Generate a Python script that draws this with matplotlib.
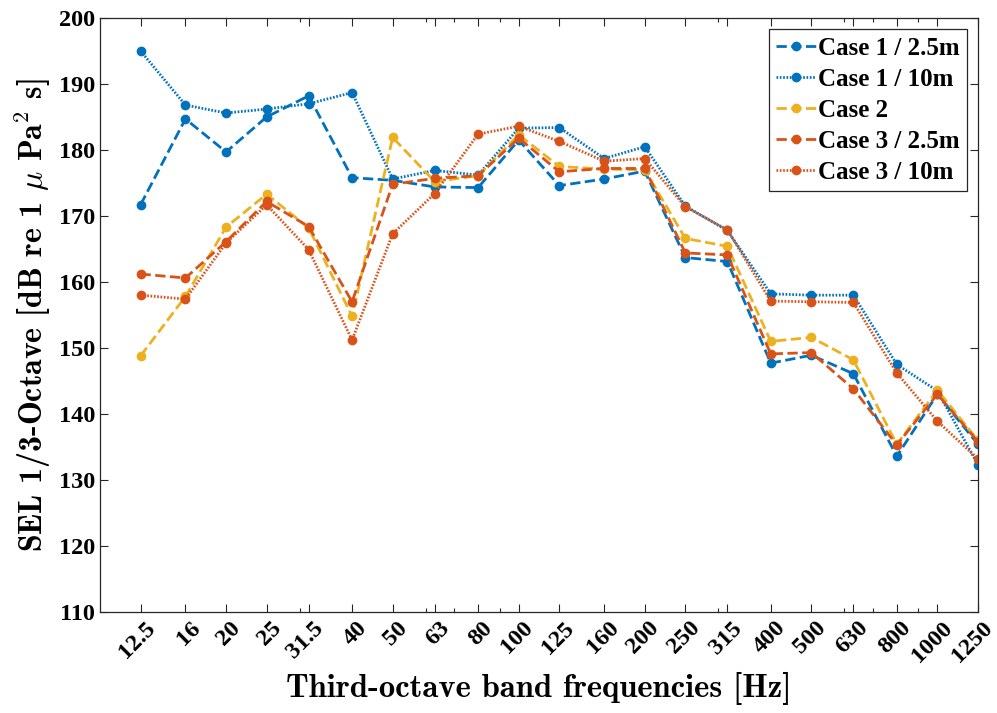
import matplotlib
matplotlib.use("Agg")
import matplotlib.pyplot as plt
from matplotlib.font_manager import FontProperties
from matplotlib.transforms import ScaledTranslation
from matplotlib.ticker import FixedLocator, FixedFormatter, LogLocator, NullFormatter

# Third-octave band centre frequencies [Hz]
freqs = [12.5, 16, 20, 25, 31.5, 40, 50, 63, 80, 100, 125, 160, 200,
         250, 315, 400, 500, 630, 800, 1000, 1250]
freq_labels = ["12.5", "16", "20", "25", "31.5", "40", "50", "63", "80", "100",
               "125", "160", "200", "250", "315", "400", "500", "630", "800",
               "1000", "1250"]

# SEL per band [dB re 1 uPa^2 s]
case1_2p5m = [171.7, 184.7, 179.7, 185.0, 188.2, 175.8, 175.4, 174.4, 174.3, 181.5,
              174.6, 175.6, 176.8, 163.7, 163.1, 147.7, 148.9, 146.1, 133.6, 143.0, 135.4]
case1_10m = [195.0, 186.8, 185.6, 186.2, 187.0, 188.7, 175.6, 176.9, 176.2, 183.3,
             183.4, 178.7, 180.5, 171.5, 167.8, 158.2, 158.0, 158.0, 147.5, 143.5, 132.3]
case2 = [148.8, 157.8, 168.3, 173.3, 168.2, 154.8, 181.9, 175.2, 176.1, 182.3,
         177.5, 177.1, 177.0, 166.6, 165.4, 151.0, 151.6, 148.2, 135.4, 143.6, 136.0]
case3_2p5m = [161.2, 160.6, 166.1, 172.2, 168.4, 157.0, 174.8, 175.7, 176.1, 181.8,
              176.7, 177.2, 177.2, 164.4, 164.1, 149.1, 149.3, 143.8, 135.3, 143.0, 135.8]
case3_10m = [158.0, 157.4, 165.9, 171.7, 164.9, 151.2, 167.3, 173.4, 182.4, 183.6,
             181.3, 178.3, 178.7, 171.4, 167.9, 157.1, 157.0, 156.9, 146.2, 138.9, 133.2]

series_names = ["Case 1 / 2.5m", "Case 1 / 10m", "Case 2", "Case 3 / 2.5m", "Case 3 / 10m"]

BLUE = "#0072BD"
ORANGE = "#D95319"
YELLOW = "#EDB120"
DASH = (0, (3.7, 1.6))
DOT = (0, (0.6, 0.6))

plt.rcParams["mathtext.fontset"] = "cm"

fig = plt.figure(figsize=(9.97, 7.13), dpi=100)
ax = fig.add_axes([0.1003, 0.1417, 0.8806, 0.8331])

styles = [
    (case1_2p5m, BLUE, DASH),
    (case1_10m, BLUE, DOT),
    (case2, YELLOW, DASH),
    (case3_2p5m, ORANGE, DASH),
    (case3_10m, ORANGE, DOT),
]
for (vals, col, ls), name in zip(styles, series_names):
    ax.plot(freqs, vals, color=col, linestyle=ls, linewidth=2.0,
            marker="o", markersize=7, markeredgewidth=0, label=name)

ax.set_xscale("log")
ax.set_xlim(10, 1250)
ax.set_ylim(110, 200)
ax.set_yticks(range(110, 201, 10))

ax.xaxis.set_major_locator(FixedLocator(freqs))
ax.xaxis.set_major_formatter(FixedFormatter(freq_labels))
ax.xaxis.set_minor_locator(LogLocator(base=10, subs=range(2, 10)))
ax.xaxis.set_minor_formatter(NullFormatter())

axis_col = "#262626"
for sp in ax.spines.values():
    sp.set_color(axis_col)
    sp.set_linewidth(0.9)

ax.tick_params(which="both", direction="in", top=True, right=True, color=axis_col, width=0.8)
ax.tick_params(which="major", length=6)
ax.tick_params(which="minor", length=3)
ax.tick_params(axis="y", pad=3.5)
ax.tick_params(axis="x", pad=4)

tick_font = FontProperties(family="Liberation Serif", weight="bold", size=17.5)
for lab in ax.get_yticklabels():
    lab.set_fontproperties(tick_font)
shift = ScaledTranslation(4 / 100, 0, fig.dpi_scale_trans)
for lab in ax.get_xticklabels():
    lab.set_fontproperties(tick_font)
    lab.set_rotation(45)
    lab.set_ha("right")
    lab.set_va("top")
    lab.set_rotation_mode("anchor")
    lab.set_transform(lab.get_transform() + shift)

ax.set_xlabel("Third-octave band frequencies [Hz]", family="cmb10", size=23.5, labelpad=4)
ax.set_ylabel(r"SEL 1/3-Octave [dB re 1 $\mu$ Pa$^2$ s]", family="cmb10", size=23, labelpad=4)

leg = ax.legend(loc="upper right", prop=dict(family="Liberation Serif", weight="bold", size=18),
                handlelength=1.6, handletextpad=0.05, labelspacing=0.32,
                borderpad=0.3, borderaxespad=0.45, fancybox=False, framealpha=1)
leg.get_frame().set_edgecolor(axis_col)
leg.get_frame().set_linewidth(0.9)

fig.savefig("out.png", dpi=100)
